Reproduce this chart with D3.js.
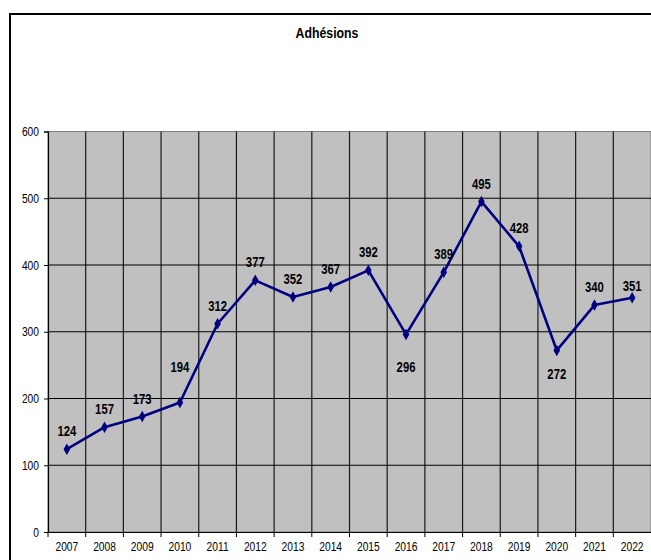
<!DOCTYPE html>
<html><head><meta charset="utf-8">
<script src="https://cdn.jsdelivr.net/npm/d3@7"></script>
<style>
body{margin:0;background:#fff;}
text{font-family:"Liberation Sans",Arial,sans-serif;}
</style></head>
<body>
<svg id="c" width="651" height="560"></svg>
<script>
const years = ["2007","2008","2009","2010","2011","2012","2013","2014","2015","2016","2017","2018","2019","2020","2021","2022"];
const adhesions = [124,157,173,194,312,377,352,367,392,296,389,495,428,272,340,351];
const yTicks = [0,100,200,300,400,500,600];
const title = "Adhésions";

const svg = d3.select("#c");
const L = 48, R = 651, T = 131.5, B = 532;
const SX = 0.82;

svg.append("rect").attr("x",10).attr("y",14).attr("width",660).attr("height",560)
  .attr("fill","#fff").attr("stroke","#000").attr("stroke-width",2);

svg.append("text").attr("transform",`translate(327,33) scale(${SX},1)`).attr("text-anchor","middle")
  .attr("dominant-baseline","central").attr("font-size",15).attr("font-weight","bold").text(title);

const x = d3.scaleBand().domain(years).range([L,R]).padding(0);
const y = d3.scaleLinear().domain([0,600]).range([B,T]);

svg.append("rect").attr("x",L).attr("y",T).attr("width",R-L).attr("height",B-T)
  .attr("fill","#c0c0c0").attr("stroke","#808080").attr("stroke-width",1);

// vertical grid
svg.append("g").selectAll("line").data(years.slice(1)).join("line")
  .attr("x1",d=>x(d)).attr("x2",d=>x(d)).attr("y1",T).attr("y2",B)
  .attr("stroke","#1a1a1a").attr("stroke-width",1.2);
// horizontal grid
svg.append("g").selectAll("line").data(yTicks.slice(1,-1)).join("line")
  .attr("x1",L).attr("x2",R).attr("y1",d=>y(d)).attr("y2",d=>y(d))
  .attr("stroke","#000").attr("stroke-width",1.2);

// y axis
const ya = svg.append("g").attr("transform",`translate(${L},0)`)
  .call(d3.axisLeft(y).tickValues(yTicks).tickSize(4).tickPadding(5));
ya.select(".domain").attr("stroke","#000").attr("stroke-width",1.2);
ya.selectAll("line").attr("stroke","#000");
ya.selectAll("text").attr("font-size",12.5).attr("fill","#000")
  .attr("x",null).attr("transform",`translate(-9,0) scale(${SX},1)`);

// x axis
const xa = svg.append("g").attr("transform",`translate(0,${B})`)
  .call(d3.axisBottom(x).tickSize(0).tickPadding(10));
xa.select(".domain").attr("stroke","#000").attr("stroke-width",1.2);
xa.selectAll("text").attr("font-size",12.5).attr("fill","#000")
  .attr("transform",`scale(${SX},1)`);
// boundary tick marks
svg.append("g").selectAll("line").data(years).join("line")
  .attr("x1",d=>x(d)).attr("x2",d=>x(d)).attr("y1",B).attr("y2",B+5)
  .attr("stroke","#000").attr("stroke-width",1);

const cx = d => x(d) + x.bandwidth()/2;
const line = d3.line().x((d,i)=>cx(years[i])).y(d=>y(d));
svg.append("path").datum(adhesions).attr("d",line).attr("fill","none")
  .attr("stroke","#000080").attr("stroke-width",2.6).attr("stroke-linejoin","round");

svg.append("g").selectAll("path").data(adhesions).join("path")
  .attr("d",d3.symbol().type(d3.symbolDiamond).size(38))
  .attr("transform",(d,i)=>`translate(${cx(years[i])},${y(d)})`)
  .attr("fill","#000080");

// label offsets (placement, px)
const off = {"2010":-36,"2016":33,"2020":24,"2022":-12};
svg.append("g").selectAll("text").data(adhesions).join("text")
  .attr("transform",(d,i)=>`translate(${cx(years[i])},${y(d) + (off[years[i]] !== undefined ? off[years[i]] : -18)}) scale(0.78,1)`)
  .attr("text-anchor","middle").attr("dominant-baseline","central")
  .attr("font-size",14.5).attr("font-weight","bold").attr("fill","#000")
  .text(d=>d);
</script>
</body></html>
